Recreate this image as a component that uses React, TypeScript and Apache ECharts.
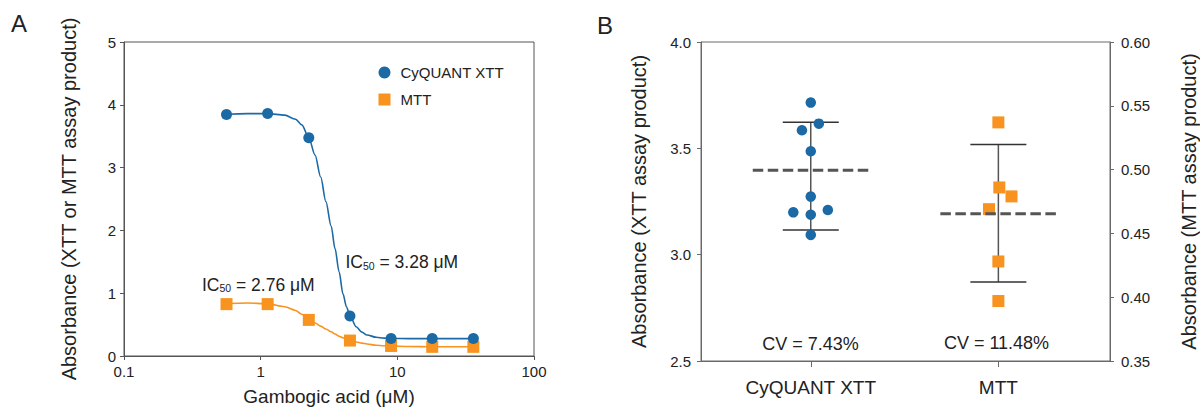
import React, { useEffect, useRef } from 'react';
import * as echarts from 'echarts';

// ---------- Panel A data ----------
const concentrations = [0.5625, 1.125, 2.25, 4.5, 9, 18, 36];
const xttA = [3.845, 3.86, 3.475, 0.638, 0.277, 0.277, 0.277];
const mttA = [0.826, 0.826, 0.575, 0.246, 0.16, 0.146, 0.146];
// fitted curves
const fitConc = [0.5625, 0.8, 1.125, 1.5, 1.8, 2.0, 2.25, 2.5, 2.75, 3.0, 3.28, 3.5, 3.75, 4.0, 4.25, 4.5, 5, 5.5, 6, 7, 8, 9, 12, 18, 36];
const fitXtt = [3.85, 3.86, 3.86, 3.835, 3.77, 3.68, 3.475, 3.2, 2.85, 2.46, 2.07, 1.71, 1.34, 0.99, 0.78, 0.64, 0.465, 0.38, 0.335, 0.298, 0.285, 0.279, 0.277, 0.277, 0.277];
const fitMtt = [0.835, 0.845, 0.83, 0.785, 0.725, 0.665, 0.585, 0.525, 0.475, 0.43, 0.385, 0.35, 0.315, 0.29, 0.265, 0.246, 0.222, 0.205, 0.19, 0.172, 0.163, 0.158, 0.152, 0.148, 0.147];
const xTickLabelsA = ['0.1', '1', '10', '100'];

// ---------- Panel B data ----------
const categoriesB = ['CyQUANT XTT', 'MTT'];
const xttB = [3.715, 3.616, 3.585, 3.486, 3.273, 3.199, 3.188, 3.21, 3.093];
const xttJitter = [0, 0.043, -0.047, 0, 0, -0.093, 0, 0.091, 0];
const mttB = [0.537, 0.486, 0.479, 0.469, 0.428, 0.397];
const mttJitter = [0, 0.005, 0.07, -0.05, 0, 0];
const xttMean = 3.397;
const xttBar = [3.116, 3.623];
const mttMean = 0.4654;
const mttBar = [0.4119, 0.5197];
const cvLabels = ['CV = 7.43%', 'CV = 11.48%'];

const BLUE = '#1b6aa5';
const ORANGE = '#f7931e';
const FONT = '"Liberation Sans", Arial, Helvetica, sans-serif';
const TXT = '#222';

const errorBarRender = (params: any, api: any) => {
  const x = api.value(0);
  const pLo = api.coord([x, api.value(1)]);
  const pHi = api.coord([x, api.value(2)]);
  const cap = 28;
  const st = { stroke: '#333', lineWidth: 1.5 };
  return {
    type: 'group',
    children: [
      { type: 'line', shape: { x1: pLo[0], y1: pLo[1], x2: pHi[0], y2: pHi[1] }, style: { stroke: '#555', lineWidth: 1.5 } },
      { type: 'line', shape: { x1: pHi[0] - cap, y1: pHi[1], x2: pHi[0] + cap, y2: pHi[1] }, style: st },
      { type: 'line', shape: { x1: pLo[0] - cap, y1: pLo[1], x2: pLo[0] + cap, y2: pLo[1] }, style: st },
    ],
  };
};

const meanRender = (params: any, api: any) => {
  const p = api.coord([api.value(0), api.value(1)]);
  return {
    type: 'line',
    shape: { x1: p[0] - 58, y1: p[1], x2: p[0] + 58, y2: p[1] },
    style: { stroke: '#555', lineWidth: 3, lineDash: [10.5, 4.5] },
  };
};

const icText = (value: string, x: number, y: number) => ({
  type: 'text',
  x,
  y,
  style: {
    text: `{a|IC}{b|50}{a| = ${value} μM}`,
    textVerticalAlign: 'middle',
    rich: {
      a: { fontSize: 17.5, fontFamily: FONT, fill: TXT, color: TXT },
      b: { fontSize: 10.5, fontFamily: FONT, fill: TXT, color: TXT, verticalAlign: 'bottom', lineHeight: 11 },
    },
  },
});

const axisLineA = { show: true, onZero: false, lineStyle: { color: '#555', width: 1 } };
const axisLineB = { show: true, onZero: false, lineStyle: { color: '#6a6a6a', width: 1 } };

const option: any = {
  animation: false,
  backgroundColor: '#fff',
  textStyle: { fontFamily: FONT },
  grid: [
    { left: 124, top: 42, width: 410, height: 319, show: true, borderColor: '#555', borderWidth: 1, backgroundColor: 'transparent' },
    { left: 701, top: 42, width: 410, height: 319, show: true, borderColor: '#6a6a6a', borderWidth: 1, backgroundColor: 'transparent' },
  ],
  legend: {
    left: 378.5,
    top: 65,
    padding: 0,
    orient: 'vertical',
    itemWidth: 12,
    itemHeight: 12,
    itemGap: 12,
    textStyle: { fontSize: 15, color: TXT, fontFamily: FONT, padding: [0, 0, 0, 5] },
    data: [
      { name: 'CyQUANT XTT', icon: 'circle' },
      { name: 'MTT', icon: 'rect' },
    ],
  },
  xAxis: [
    {
      type: 'log',
      gridIndex: 0,
      logBase: 10,
      min: 0.1,
      max: 100,
      axisLine: axisLineA,
      axisTick: { show: true, length: 4, lineStyle: { color: '#555' } },
      minorTick: { show: false },
      splitLine: { show: false },
      axisLabel: {
        fontSize: 15,
        color: TXT,
        margin: 8,
        formatter: (v: number) => {
          const i = Math.round(Math.log10(v)) + 1;
          return xTickLabelsA[i] ?? '';
        },
      },
      name: 'Gambogic acid (μM)',
      nameLocation: 'middle',
      nameGap: 31,
      nameTextStyle: { fontSize: 19, color: TXT, fontFamily: FONT },
    },
    {
      type: 'value',
      gridIndex: 1,
      min: -0.585,
      max: 1.595,
      axisLine: axisLineB,
      axisTick: { show: true, length: 6, customValues: [0, 1], lineStyle: { color: '#6a6a6a' } },
      splitLine: { show: false },
      axisLabel: {
        fontSize: 19,
        color: TXT,
        margin: 17,
        customValues: [0, 1],
        formatter: (v: number) => categoriesB[Math.round(v)] ?? '',
      },
    },
  ],
  yAxis: [
    {
      type: 'value',
      gridIndex: 0,
      min: 0,
      max: 5,
      interval: 1,
      axisLine: axisLineA,
      axisTick: { show: true, length: 4, lineStyle: { color: '#555' } },
      splitLine: { show: false },
      axisLabel: { fontSize: 15, color: TXT, margin: 8 },
      name: 'Absorbance (XTT or MTT assay product)',
      nameLocation: 'middle',
      nameGap: 45,
      nameRotate: 90,
      nameTextStyle: { fontSize: 20, color: TXT, fontFamily: FONT },
    },
    {
      type: 'value',
      gridIndex: 1,
      position: 'left',
      min: 2.5,
      max: 4.0,
      interval: 0.5,
      axisLine: axisLineB,
      axisTick: { show: true, length: 4, lineStyle: { color: '#6a6a6a' } },
      splitLine: { show: false },
      axisLabel: { fontSize: 15, color: TXT, margin: 10, formatter: (v: number) => v.toFixed(1) },
      name: 'Absorbance (XTT assay product)',
      nameLocation: 'middle',
      nameGap: 52,
      nameRotate: 90,
      nameTextStyle: { fontSize: 20, color: TXT, fontFamily: FONT },
    },
    {
      type: 'value',
      gridIndex: 1,
      position: 'right',
      min: 0.35,
      max: 0.6,
      interval: 0.05,
      axisLine: axisLineB,
      axisTick: { show: true, length: 4, lineStyle: { color: '#6a6a6a' } },
      splitLine: { show: false },
      axisLabel: { fontSize: 15, color: TXT, margin: 11, formatter: (v: number) => v.toFixed(2) },
      name: 'Absorbance (MTT assay product)',
      nameLocation: 'middle',
      nameGap: 69,
      nameRotate: 90,
      nameTextStyle: { fontSize: 20, color: TXT, fontFamily: FONT },
    },
  ],
  series: [
    {
      name: 'fitXtt',
      type: 'line',
      xAxisIndex: 0,
      yAxisIndex: 0,
      data: fitConc.map((c, i) => [c, fitXtt[i]]),
      showSymbol: false,
      smooth: 0.3,
      smoothMonotone: 'x',
      lineStyle: { color: BLUE, width: 1.6 },
      silent: true,
      z: 1,
    },
    {
      name: 'fitMtt',
      type: 'line',
      xAxisIndex: 0,
      yAxisIndex: 0,
      data: fitConc.map((c, i) => [c, fitMtt[i]]),
      showSymbol: false,
      smooth: 0.3,
      smoothMonotone: 'x',
      lineStyle: { color: ORANGE, width: 1.6 },
      silent: true,
      z: 1,
    },
    {
      name: 'MTT',
      type: 'scatter',
      xAxisIndex: 0,
      yAxisIndex: 0,
      symbol: 'rect',
      symbolSize: 12,
      itemStyle: { color: ORANGE, opacity: 1 },
      data: concentrations.map((c, i) => [c, mttA[i]]),
      z: 2,
    },
    {
      name: 'CyQUANT XTT',
      type: 'scatter',
      xAxisIndex: 0,
      yAxisIndex: 0,
      symbol: 'circle',
      symbolSize: 11,
      itemStyle: { color: BLUE, opacity: 1 },
      data: concentrations.map((c, i) => [c, xttA[i]]),
      z: 3,
    },
    // Panel B
    {
      name: 'xttBar',
      type: 'custom',
      xAxisIndex: 1,
      yAxisIndex: 1,
      renderItem: errorBarRender,
      encode: { x: 0, y: [1, 2] },
      data: [[0, xttBar[0], xttBar[1]]],
      silent: true,
      z: 1,
    },
    {
      name: 'mttBar',
      type: 'custom',
      xAxisIndex: 1,
      yAxisIndex: 2,
      renderItem: errorBarRender,
      encode: { x: 0, y: [1, 2] },
      data: [[1, mttBar[0], mttBar[1]]],
      silent: true,
      z: 1,
    },
    {
      name: 'xttPoints',
      type: 'scatter',
      xAxisIndex: 1,
      yAxisIndex: 1,
      symbol: 'circle',
      symbolSize: 10.5,
      itemStyle: { color: BLUE, opacity: 1 },
      data: xttB.map((v, i) => [0 + xttJitter[i], v]),
      z: 2,
    },
    {
      name: 'mttPoints',
      type: 'scatter',
      xAxisIndex: 1,
      yAxisIndex: 2,
      symbol: 'rect',
      symbolSize: 12,
      itemStyle: { color: ORANGE, opacity: 1 },
      data: mttB.map((v, i) => [1 + mttJitter[i], v]),
      z: 2,
    },
    {
      name: 'xttMean',
      type: 'custom',
      xAxisIndex: 1,
      yAxisIndex: 1,
      renderItem: meanRender,
      encode: { x: 0, y: 1 },
      data: [[0, xttMean]],
      silent: true,
      z: 3,
    },
    {
      name: 'mttMean',
      type: 'custom',
      xAxisIndex: 1,
      yAxisIndex: 2,
      renderItem: meanRender,
      encode: { x: 0, y: 1 },
      data: [[1, mttMean]],
      silent: true,
      z: 3,
    },
  ],
  graphic: [
    { type: 'text', x: 11, y: 23.5, style: { text: 'A', font: `24px ${FONT}`, fill: TXT, textVerticalAlign: 'middle' } },
    { type: 'text', x: 597, y: 25.5, style: { text: 'B', font: `24px ${FONT}`, fill: TXT, textVerticalAlign: 'middle' } },
    icText('3.28', 345.5, 262),
    icText('2.76', 202, 284.5),
    { type: 'text', x: 810.5, y: 343.5, style: { text: cvLabels[0], font: `18px ${FONT}`, fill: TXT, textAlign: 'center', textVerticalAlign: 'middle' } },
    { type: 'text', x: 996.5, y: 343, style: { text: cvLabels[1], font: `18px ${FONT}`, fill: TXT, textAlign: 'center', textVerticalAlign: 'middle' } },
  ],
};

export default function App() {
  const ref = useRef<HTMLDivElement>(null);
  useEffect(() => {
    if (!ref.current) return;
    const chart = echarts.init(ref.current, null, { renderer: 'svg' });
    chart.setOption(option);
    return () => chart.dispose();
  }, []);
  return (
    <div
      ref={ref}
      style={{ position: 'fixed', left: 0, top: 0, width: 1200, height: 411, background: '#fff' }}
    />
  );
}
